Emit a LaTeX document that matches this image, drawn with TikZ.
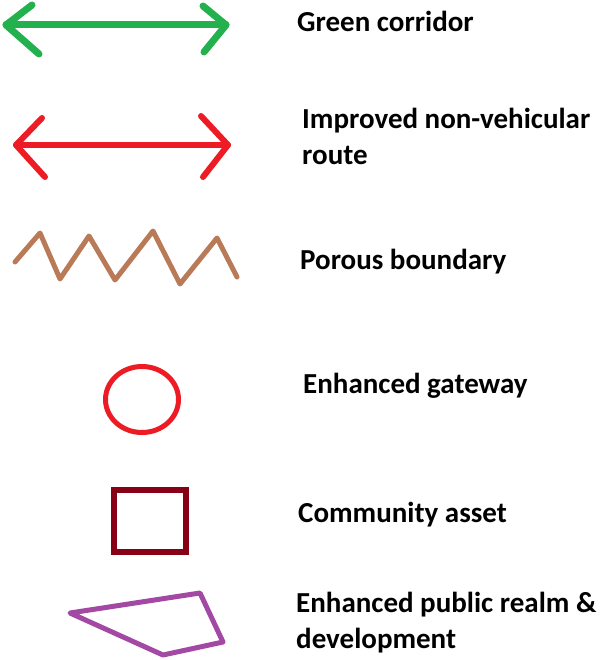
\documentclass[tikz,border=0pt]{standalone}
\usepackage{fontspec}
\setmainfont{Carlito}
\begin{document}
\begin{tikzpicture}[x=1pt,y=-1pt,
  stroke/.style={line cap=round,line join=round},
  label/.style={anchor=base west,inner sep=0pt,
    font=\fontsize{29}{36}\selectfont\bfseries}]
\definecolor{corridor}{RGB}{34,177,76}
\definecolor{route}{RGB}{237,28,36}
\definecolor{porous}{RGB}{185,122,87}
\definecolor{asset}{RGB}{136,0,21}
\definecolor{realm}{RGB}{163,73,164}
\useasboundingbox (0,0) rectangle (601,660);

% green corridor: double-headed arrow
\coordinate (gl) at (6,25);
\coordinate (gr) at (226,25);
\draw[stroke,corridor,line width=7] (gl) -- (gr);
\draw[stroke,corridor,line width=7] (32,5) -- (gl) -- (39,54);
\draw[stroke,corridor,line width=7] (203,6) -- (gr) -- (204,52);
\node[label] (tgreen) at (297,32) {Green corridor};

% improved non-vehicular route
\coordinate (rl) at (16,145);
\coordinate (rr) at (228,145);
\draw[stroke,route,line width=6] (rl) -- (rr);
\draw[stroke,route,line width=6] (42,118) -- (rl) -- (45,177);
\draw[stroke,route,line width=6] (201,116) -- (rr) -- (203,177);
\node[label] (troute1) at (302,129) {Improved non-vehicular};
\node[label] (troute2) at (302,165) {route};

% porous boundary: zigzag
\draw[stroke,porous,line width=5]
  (15,262) -- (40,233) -- (60,279) -- (89,236) -- (115,280)
  -- (153,231) -- (180,284) -- (217,238) -- (237,277);
\node[label] (tporous) at (300,269) {Porous boundary};

% enhanced gateway
\draw[route,line width=5] (142,399.5) ellipse (36.5 and 33);
\node[label] (tgate) at (303,393) {Enhanced gateway};

% community asset
\draw[asset,line width=6] (114,490) rectangle (186,552);
\node[label] (tasset) at (298,522) {Community asset};

% enhanced public realm & development
\draw[stroke,realm,line width=5]
  (70,613) -- (200,593) -- (223,642) -- (163,655) -- cycle;
\node[label] (trealm1) at (296,612) {Enhanced public realm \&};
\node[label] (trealm2) at (296,648) {development};
\end{tikzpicture}
\end{document}
